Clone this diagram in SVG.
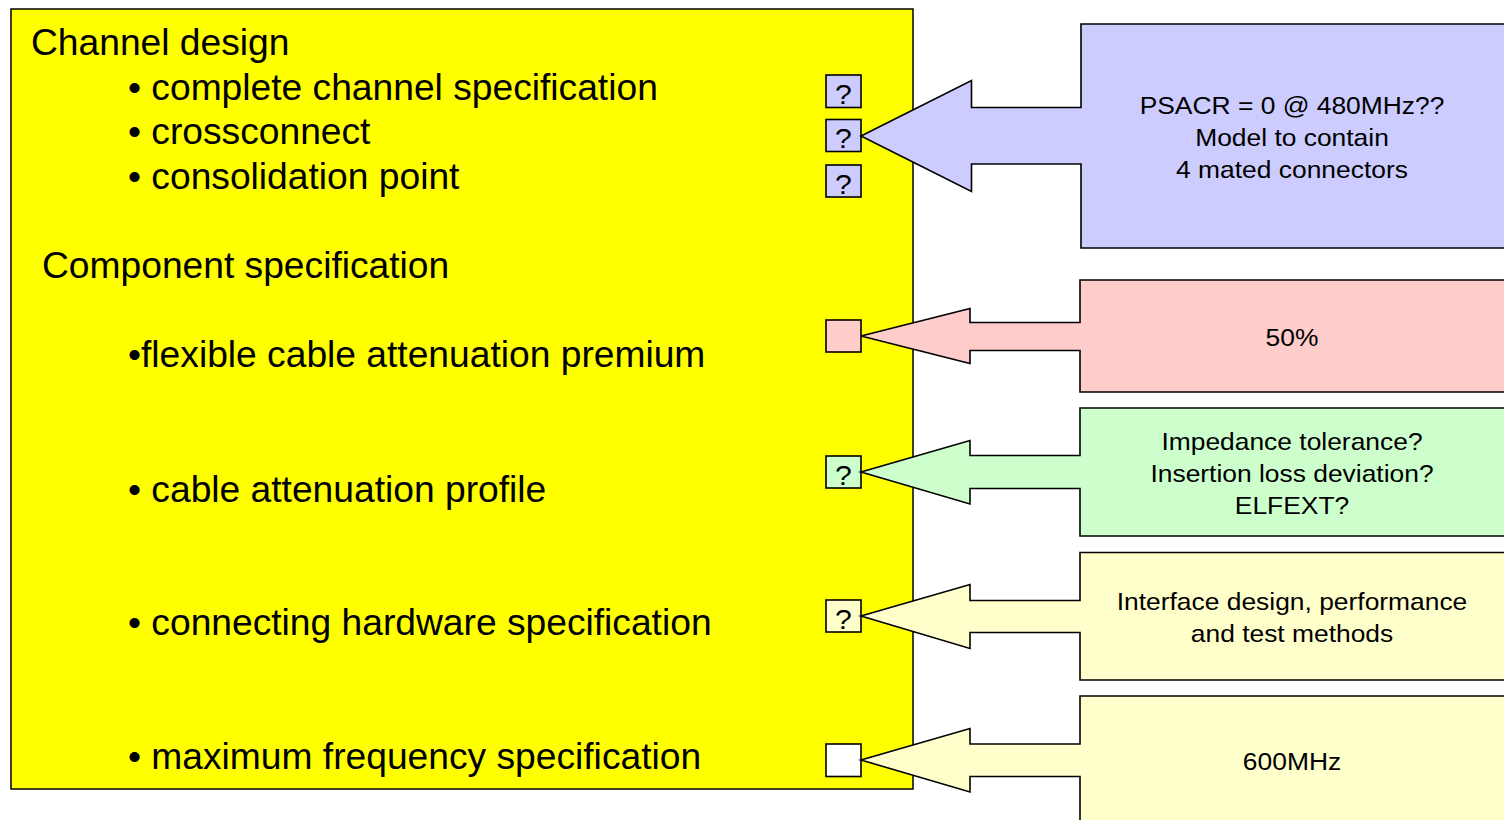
<svg xmlns="http://www.w3.org/2000/svg" width="1504" height="820" viewBox="0 0 1504 820">
<style>
.main{fill:#FFFF00;stroke:#000;stroke-width:1.5}
.big{font-family:"Liberation Sans",Arial,sans-serif;font-size:37.2px;fill:#000}
.co{stroke:#000;stroke-width:1.6;stroke-linejoin:miter}
.q{stroke:#000;stroke-width:1.6}
.ct{font-family:"Liberation Sans",Arial,sans-serif;font-size:24px;fill:#000;text-anchor:middle}
.qt{font-family:"Liberation Sans",Arial,sans-serif;font-size:27px;fill:#000;text-anchor:middle}
.blue{fill:#CCCCFF}.pink{fill:#FFCCCC}.green{fill:#CCFFCC}.ly{fill:#FFFFCC}.wh{fill:#FFFFFF}
</style>
<rect width="1504" height="820" fill="#fff"/>
<g id="main-box">
<rect class="main" x="11" y="9" width="902" height="780"/>
<text class="big" x="31" y="55">Channel design</text>
<text class="big" x="128" y="100">• complete channel specification</text>
<text class="big" x="128" y="144">• crossconnect</text>
<text class="big" x="128" y="189">• consolidation point</text>
<text class="big" x="42" y="278">Component specification</text>
<text class="big" x="128" y="367">•flexible cable attenuation premium</text>
<text class="big" x="128" y="502">• cable attenuation profile</text>
<text class="big" x="128" y="635">• connecting hardware specification</text>
<text class="big" x="128" y="769">• maximum frequency specification</text>
</g>
<g id="status-boxes">
<g id="q1"><rect class="q blue" x="826" y="75" width="35" height="32.5"/><text class="qt" transform="translate(843.5,104) scale(1.12,1)">?</text></g>
<g id="q2"><rect class="q blue" x="826" y="119.5" width="35" height="32"/><text class="qt" transform="translate(843.5,148) scale(1.12,1)">?</text></g>
<g id="q3"><rect class="q blue" x="826" y="165" width="35" height="32"/><text class="qt" transform="translate(843.5,193.5) scale(1.12,1)">?</text></g>
<g id="q4"><rect class="q pink" x="826" y="320" width="35" height="32"/></g>
<g id="q5"><rect class="q green" x="826" y="456" width="35" height="32"/><text class="qt" transform="translate(843.5,484.5) scale(1.12,1)">?</text></g>
<g id="q6"><rect class="q ly" x="826" y="600" width="35" height="32"/><text class="qt" transform="translate(843.5,628.5) scale(1.12,1)">?</text></g>
<g id="q7"><rect class="q wh" x="826" y="744" width="35" height="32.5"/></g>
</g>
<g id="connectors">
<g id="callout-psacr">
<path class="co blue" d="M1081,24 H1510 V248 H1081 V164 H971.5 V191.5 L861,136 L971.5,80.5 V107.5 H1081 Z"/>
<text class="ct" transform="translate(1292,114) scale(1.1,1)">PSACR = 0 @ 480MHz??</text>
<text class="ct" transform="translate(1292,146) scale(1.1,1)">Model to contain</text>
<text class="ct" transform="translate(1292,178) scale(1.1,1)">4 mated connectors</text>
</g>
<g id="callout-50">
<path class="co pink" d="M1080,280 H1510 V392 H1080 V350.5 H970 V363.5 L861,336 L970,308.5 V322.5 H1080 Z"/>
<text class="ct" transform="translate(1292,346) scale(1.1,1)">50%</text>
</g>
<g id="callout-impedance">
<path class="co green" d="M1080,408 H1510 V536 H1080 V488.5 H970 V504 L861,472 L970,440.5 V455.5 H1080 Z"/>
<text class="ct" transform="translate(1292,450) scale(1.1,1)">Impedance tolerance?</text>
<text class="ct" transform="translate(1292,482) scale(1.1,1)">Insertion loss deviation?</text>
<text class="ct" transform="translate(1292,514) scale(1.1,1)">ELFEXT?</text>
</g>
<g id="callout-interface">
<path class="co ly" d="M1080,552.5 H1510 V680 H1080 V632.5 H970 V648.5 L861,616 L970,584.5 V600.5 H1080 Z"/>
<text class="ct" transform="translate(1292,610) scale(1.1,1)">Interface design, performance</text>
<text class="ct" transform="translate(1292,642) scale(1.1,1)">and test methods</text>
</g>
<g id="callout-600">
<path class="co ly" d="M1080,696 H1510 V830 H1080 V776.5 H970 V792 L861,760 L970,728.5 V744 H1080 Z"/>
<text class="ct" transform="translate(1292,770) scale(1.1,1)">600MHz</text>
</g>
</g>
</svg>
